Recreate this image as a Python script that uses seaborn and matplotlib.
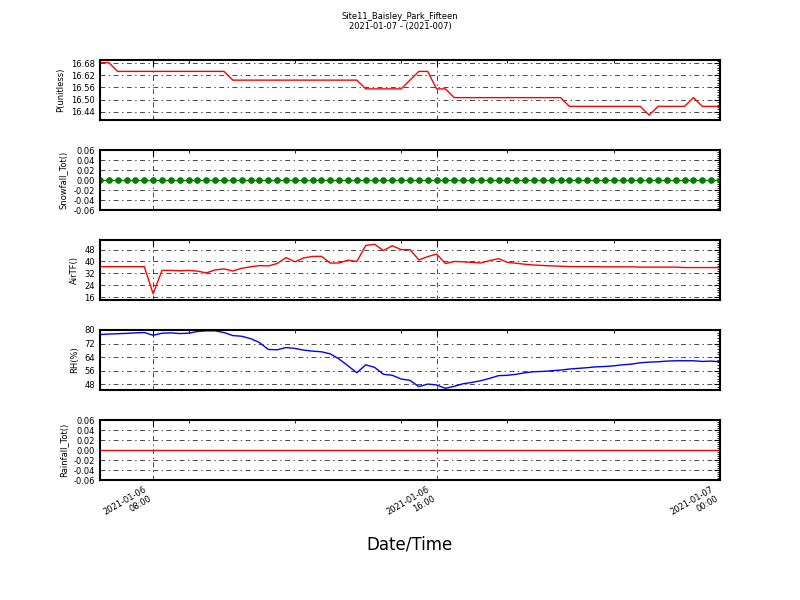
import pandas as pd
import numpy as np
import matplotlib
matplotlib.use('Agg')
import matplotlib.pyplot as plt
import matplotlib.dates as mdates
import matplotlib.ticker as mticker
import seaborn as sns

# ==========================================
# 資料 (15 分鐘一筆, 2021-01-06 06:30 ~ 2021-01-07 00:00)
# ==========================================
TIMES = pd.date_range('2021-01-06 06:30', '2021-01-07 00:00', freq='15min')

P_VALS = ([16.682] * 2 + [16.639] * 13 + [16.596] * 15 + [16.553] * 5 + [16.596]
          + [16.639] * 2 + [16.553] * 2 + [16.510] * 13 + [16.467] * 9 + [16.424]
          + [16.467] * 4 + [16.510] + [16.467] * 3)

SNOW_VALS = [0.0] * 71

AIRT_VALS = [36.5, 36.5, 36.5, 36.5, 36.5, 36.5, 18.2, 34.0, 34.0, 33.7,
             34.0, 33.5, 32.3, 34.3, 35.0, 33.6, 35.4, 36.4, 37.2, 37.0,
             38.6, 42.6, 39.8, 42.4, 43.4, 43.5, 38.9, 39.0, 40.9, 40.0,
             50.8, 51.6, 47.4, 50.6, 48.0, 48.0, 41.0, 43.3, 45.0, 38.6,
             40.0, 39.8, 39.4, 39.0, 40.6, 41.9, 39.4, 38.8, 38.1, 37.6,
             37.3, 37.0, 36.8, 36.6, 36.5, 36.5, 36.5, 36.4, 36.4, 36.4,
             36.4, 36.2, 36.2, 36.2, 36.2, 36.2, 35.9, 35.9, 35.9, 35.9, 35.9]

RH_VALS = [77.3, 77.6, 77.8, 78.0, 78.3, 78.5, 76.9, 78.1, 78.3, 77.9,
           78.1, 79.1, 79.5, 79.5, 78.5, 76.7, 76.3, 74.9, 72.6, 68.5,
           68.3, 69.6, 69.1, 68.1, 67.5, 67.1, 65.9, 62.8, 58.8, 54.7,
           59.4, 57.9, 53.8, 53.2, 51.0, 50.2, 46.5, 48.0, 47.5, 45.5,
           46.7, 48.2, 49.0, 50.0, 51.4, 53.0, 53.2, 53.8, 54.7, 55.3,
           55.5, 55.9, 56.3, 56.9, 57.3, 57.7, 58.2, 58.4, 58.8, 59.4,
           59.8, 60.6, 61.0, 61.2, 61.6, 61.8, 61.8, 61.8, 61.4, 61.6, 61.2]

RAIN_VALS = [0.0] * 71

LABELS = ['P(unitless)', 'Snowfall_Tot()', 'AirTF()', 'RH(%)', 'Rainfall_Tot()']
TITLE = 'Site11_Baisley_Park_Fifteen\n2021-01-07 - (2021-007)'

# ==========================================
# 繪圖
# ==========================================
sns.set_style('white')
plt.rcParams['font.family'] = ['DejaVu Sans']
plt.rcParams['text.color'] = 'k'
plt.rcParams['axes.labelcolor'] = 'k'
plt.rcParams['xtick.color'] = 'k'
plt.rcParams['ytick.color'] = 'k'
plt.rcParams['lines.scale_dashes'] = False

GRID_DASH = (0, (3.5, 2.5, 1, 2.5))

fig, axes = plt.subplots(5, 1, figsize=(8, 6), dpi=100, sharex=True)
fig.subplots_adjust(left=0.125, right=0.9, top=0.9, bottom=0.2, hspace=0.5)

series = [P_VALS, SNOW_VALS, AIRT_VALS, RH_VALS, RAIN_VALS]
colors = ['r', 'g', 'r', 'b', 'r']
ylims = [(16.40, 16.695), (-0.06, 0.06), (14, 54.5), (44.5, 80), (-0.06, 0.06)]
ysteps = [0.06, 0.02, 8, 8, 0.02]

for ax, vals, c, lab, yl, st in zip(axes, series, colors, LABELS, ylims, ysteps):
    df = pd.DataFrame({'t': TIMES, 'v': vals})
    if lab.startswith('Snowfall'):
        sns.lineplot(data=df, x='t', y='v', ax=ax, color=c, linewidth=1,
                     marker='o', markersize=4, markeredgecolor=c)
    else:
        sns.lineplot(data=df, x='t', y='v', ax=ax, color=c, linewidth=1)
    ax.set_ylim(*yl)
    ax.yaxis.set_major_locator(mticker.MultipleLocator(st))
    ax.yaxis.set_minor_locator(mticker.AutoMinorLocator(5))
    ax.yaxis.set_major_formatter(mticker.FormatStrFormatter('%.2f' if st < 1 else '%d'))
    ax.set_ylabel(lab, fontsize=6)
    ax.set_xlabel('')
    ax.grid(True, which='major', linestyle=GRID_DASH, color='k', linewidth=0.5)
    ax.tick_params(which='both', direction='in', top=True, right=True, labelsize=6, color='k')
    ax.tick_params(which='major', length=4, width=0.8)
    ax.tick_params(which='minor', length=2, width=0.6)
    for s in ax.spines.values():
        s.set_color('k')
        s.set_linewidth(1.5)

ax = axes[-1]
ax.set_xlim(TIMES[0], TIMES[-1])
ax.xaxis.set_major_locator(mdates.HourLocator(byhour=[0, 8, 16]))
ax.xaxis.set_minor_locator(mdates.HourLocator(byhour=range(0, 24, 3)))
ax.xaxis.set_major_formatter(mdates.DateFormatter('%Y-%m-%d\n%H:%M'))
for t in ax.get_xticklabels():
    t.set_rotation(30)
    t.set_ha('right')
    t.set_fontsize(6)

fig.suptitle(TITLE, fontsize=6, y=0.98)
fig.text(0.5125, 0.093, 'Date/Time', ha='center', va='center', fontsize=12)

fig.savefig('out.png', dpi=100)
